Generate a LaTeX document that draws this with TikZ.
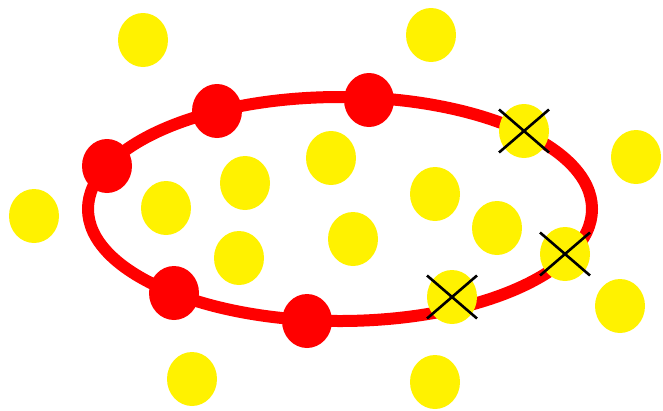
\documentclass[tikz,border=0pt]{standalone}
\usetikzlibrary{shapes.geometric,shapes.misc}

\tikzset{
  dot/.style={ellipse, minimum width=50pt, minimum height=54pt, inner sep=0pt},
  ydot/.style={dot, fill=yellow},
  rdot/.style={dot, fill=red},
  xmark/.style={cross out, draw=black, line width=2.6pt, minimum width=50pt,
    minimum height=43pt, inner sep=0pt, outer sep=0pt},
  ring/.style={draw=red, line width=12pt}
}

\begin{document}
\begin{tikzpicture}[x=1pt, y=-1pt]
  \useasboundingbox (0,0) rectangle (663,410);

  % Define the closed curve
  \draw[ring] (340,209) ellipse [x radius=252pt, y radius=112pt];

  % Points outside the curve
  \node[ydot] (o1) at (143,40) {};
  \node[ydot] (o2) at (431,35) {};
  \node[ydot] (o3) at (636,157) {};
  \node[ydot] (o4) at (34,216) {};
  \node[ydot] (o5) at (620,306) {};
  \node[ydot] (o6) at (192,379) {};
  \node[ydot] (o7) at (435,382) {};

  % Points inside the curve
  \node[ydot] (i1) at (166,208) {};
  \node[ydot] (i2) at (245,183) {};
  \node[ydot] (i3) at (331,158) {};
  \node[ydot] (i4) at (435,194) {};
  \node[ydot] (i5) at (497,228) {};
  \node[ydot] (i6) at (239,258) {};
  \node[ydot] (i7) at (353,239) {};

  % Points on the curve
  \node[rdot] (r1) at (107,166) {};
  \node[rdot] (r2) at (217,111) {};
  \node[rdot] (r3) at (369,100) {};
  \node[rdot] (r4) at (174,293) {};
  \node[rdot] (r5) at (307,321) {};

  % Crossed out points
  \node[ydot] (c1) at (524,131) {};
  \node[ydot] (c2) at (565,254) {};
  \node[ydot] (c3) at (452,297) {};
  \node[xmark] at (c1) {};
  \node[xmark] at (c2) {};
  \node[xmark] at (c3) {};
\end{tikzpicture}
\end{document}
